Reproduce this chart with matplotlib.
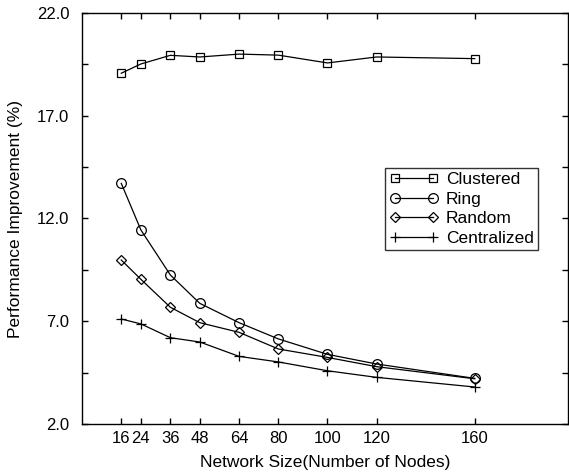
import matplotlib
matplotlib.use("Agg")
import matplotlib.pyplot as plt
from matplotlib.ticker import FixedLocator, FormatStrFormatter

plt.rcParams['font.family'] = ['Liberation Sans', 'DejaVu Sans']

nodes = [16, 24, 36, 48, 64, 80, 100, 120, 160]
clustered = [19.07, 19.52, 19.94, 19.86, 20.0, 19.95, 19.57, 19.86, 19.78]
ring = [13.71, 11.44, 9.25, 7.87, 6.93, 6.14, 5.39, 4.92, 4.22]
random_ = [9.98, 9.04, 7.68, 6.93, 6.46, 5.65, 5.24, 4.79, 4.20]
centralized = [7.11, 6.87, 6.20, 5.99, 5.29, 5.02, 4.59, 4.27, 3.80]

y_major = [2.0, 7.0, 12.0, 17.0, 22.0]
y_minor = [4.5, 9.5, 14.5, 19.5]

W, H = 569, 474
fig = plt.figure(figsize=(W / 100, H / 100), dpi=100)
ax = fig.add_axes([82 / W, 1 - 424 / H, (568 - 82) / W, (424 - 13) / H])

style = dict(color='black', linewidth=0.9, markerfacecolor='none',
             markeredgecolor='black', markeredgewidth=0.9)
ax.plot(nodes, clustered, marker='s', markersize=6, label='Clustered', **style)
ax.plot(nodes, ring, marker='o', markersize=7, label='Ring', **style)
ax.plot(nodes, random_, marker='D', markersize=4.6, label='Random', **style)
ax.plot(nodes, centralized, marker='+', markersize=7, label='Centralized', **style)

ax.set_xlim(0, 198)
ax.set_ylim(2.0, 22.0)
ax.xaxis.set_major_locator(FixedLocator(nodes))
ax.yaxis.set_major_locator(FixedLocator(y_major))
ax.yaxis.set_minor_locator(FixedLocator(y_minor))
ax.yaxis.set_major_formatter(FormatStrFormatter('%.1f'))

ax.tick_params(which='both', direction='in', length=4, width=1,
               top=True, right=True, labelsize=12)
ax.tick_params(axis='y', pad=9)
ax.tick_params(axis='x', pad=5)
for s in ax.spines.values():
    s.set_linewidth(1.0)

ax.set_xlabel('Network Size(Number of Nodes)', fontsize=12.5, labelpad=6.5)
ax.set_ylabel('Performance Improvement (%)', fontsize=12.5, labelpad=10)

leg = ax.legend(loc='upper left', bbox_to_anchor=((385 - 82) / (568 - 82), 1 - (168 - 13) / (424 - 13)),
                frameon=True, fancybox=False, fontsize=12.5, numpoints=2,
                handlelength=2.8, handletextpad=0.45, labelspacing=0.25,
                borderpad=0.25, borderaxespad=0)
leg.get_frame().set_edgecolor('black')
leg.get_frame().set_linewidth(1.0)

fig.savefig('out.png', dpi=100)
